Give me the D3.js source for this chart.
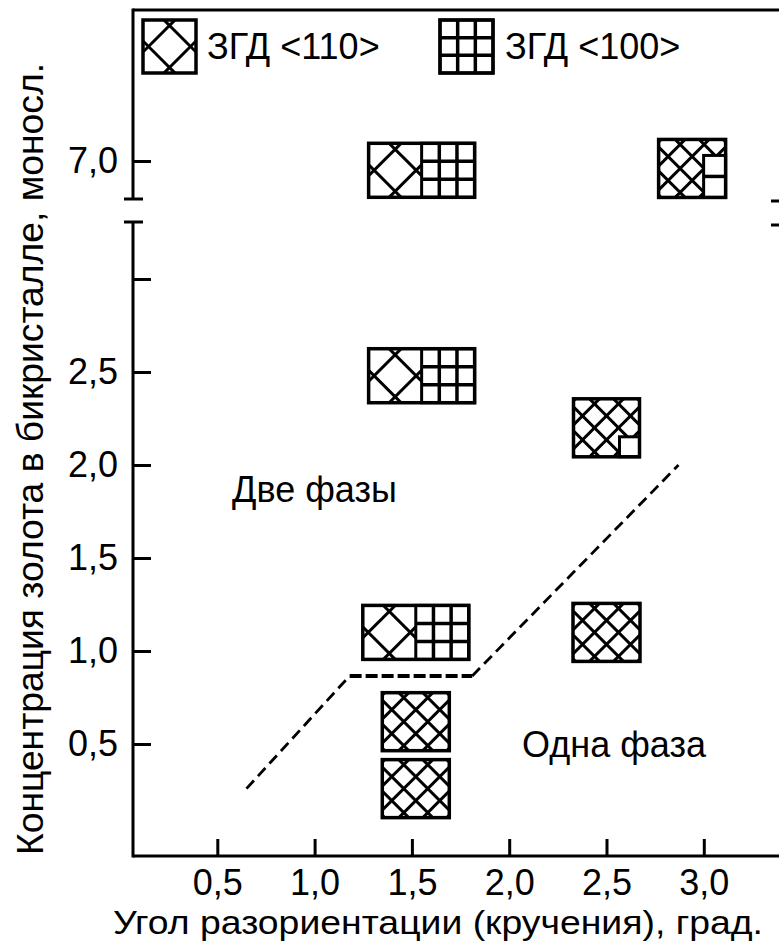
<!DOCTYPE html>
<html><head><meta charset="utf-8">
<script src="https://cdn.jsdelivr.net/npm/d3@7"></script>
<style>
body{margin:0;background:#fff}
text{font-family:"Liberation Sans",Arial,sans-serif;fill:#000}
</style>
</head><body>
<svg id="c" width="779" height="950"></svg>
<script>
// ---- data ----
const angles = [1.55, 2.94, 1.55, 2.50, 1.52, 2.50, 1.52, 1.52];
const concentrations = [6.95, 6.96, 2.48, 2.20, 1.10, 1.10, 0.62, 0.26];
const markerKinds = ["split", "diagCol", "split", "diagCorner", "split", "diag", "diag", "diag"];
const xTickValues = [0.5, 1.0, 1.5, 2.0, 2.5, 3.0];
const xTickLabels = ["0,5", "1,0", "1,5", "2,0", "2,5", "3,0"];
const yTickValuesLow = [0.5, 1.0, 1.5, 2.0, 2.5, 3.0];
const yTickLabelsLow = ["0,5", "1,0", "1,5", "2,0", "2,5", ""];
const yTickValuesHigh = [7.0];
const yTickLabelsHigh = ["7,0"];
const boundaryAngle = [0.65, 1.18, 1.81, 2.87];
const boundaryConc = [0.26, 0.866, 0.866, 2.0];
const legendLabels = ["ЗГД <110>", "ЗГД <100>"];
const regionLabels = ["Две фазы", "Одна фаза"];
const regionAngle = [0.576, 2.066];
const regionConc = [1.80, 0.43];
const xTitle = "Угол разориентации (кручения), град.";
const yTitle = "Концентрация золота в бикристалле, моносл.";

// ---- scales ----
const x = d3.scaleLinear().domain([0, 3.5]).range([120, 801.1]);
const yLow = d3.scaleLinear().domain([0, 3.0]).range([837, 279]);
const yHigh = d3.scaleLinear().domain([6.8, 7.0]).range([198.2, 161]);
const yOf = v => v > 5 ? yHigh(v) : yLow(v);

const svg = d3.select("#c");
const defs = svg.append("defs");
const FS = 36;
let uid = 0;

const axisX0 = 133, axisY0 = 856;

// frame / axes lines
const frame = svg.append("g").attr("stroke", "#000").attr("stroke-width", 3).attr("fill", "none");
frame.append("line").attr("x1", axisX0).attr("x2", 790).attr("y1", 10).attr("y2", 10);
frame.append("line").attr("x1", axisX0).attr("x2", axisX0).attr("y1", 8.5).attr("y2", 199);
frame.append("line").attr("x1", axisX0).attr("x2", axisX0).attr("y1", 222).attr("y2", axisY0 + 1.5);
frame.append("line").attr("x1", axisX0).attr("x2", 790).attr("y1", axisY0).attr("y2", axisY0);
// break caps
frame.append("line").attr("x1", 124).attr("x2", 143).attr("y1", 199).attr("y2", 199);
frame.append("line").attr("x1", 124).attr("x2", 143).attr("y1", 222).attr("y2", 222);
frame.append("line").attr("x1", 771).attr("x2", 795).attr("y1", 201).attr("y2", 201);
frame.append("line").attr("x1", 771).attr("x2", 795).attr("y1", 225).attr("y2", 225);

function styleAxis(g) {
  g.select(".domain").remove();
  g.selectAll(".tick line").attr("stroke", "#000").attr("stroke-width", 3);
  g.selectAll(".tick text").attr("font-size", FS).attr("font-family", '"Liberation Sans",Arial,sans-serif').attr("fill", "#000");
}

svg.append("g").attr("transform", `translate(${axisX0},0)`)
  .call(d3.axisLeft(yLow).tickValues(yTickValuesLow).tickFormat((d, i) => yTickLabelsLow[i]).tickSize(-18).tickPadding(15))
  .call(styleAxis);
svg.append("g").attr("transform", `translate(${axisX0},0)`)
  .call(d3.axisLeft(yHigh).tickValues(yTickValuesHigh).tickFormat((d, i) => yTickLabelsHigh[i]).tickSize(-18).tickPadding(15))
  .call(styleAxis);
svg.append("g").attr("transform", `translate(0,${axisY0})`)
  .call(d3.axisBottom(x).tickValues(xTickValues).tickFormat((d, i) => xTickLabels[i]).tickSize(-17).tickPadding(13))
  .call(styleAxis);

// titles
svg.append("text").attr("x", 113).attr("y", 934).attr("font-size", 33)
  .attr("textLength", 650).attr("lengthAdjust", "spacingAndGlyphs").text(xTitle);
svg.append("text").attr("transform", "translate(43,855) rotate(-90)").attr("font-size", FS)
  .attr("textLength", 792).attr("lengthAdjust", "spacingAndGlyphs").text(yTitle);

// ---- marker helpers ----
function hatch(g, x0, y0, w, h, q) {
  const id = "clip" + (uid++);
  defs.append("clipPath").attr("id", id).append("rect")
    .attr("x", x0).attr("y", y0).attr("width", w).attr("height", h);
  const gg = g.append("g").attr("clip-path", `url(#${id})`)
    .attr("stroke", "#000").attr("stroke-width", 3);
  const cx = x0 + w / 2, cy = y0 + h / 2, L = 200;
  for (let k = -6; k <= 5; k++) {
    const off = q / 2 + k * q;
    gg.append("line").attr("x1", cx + off + L).attr("y1", cy - L).attr("x2", cx + off - L).attr("y2", cy + L);
    gg.append("line").attr("x1", cx + off + L).attr("y1", cy + L).attr("x2", cx + off - L).attr("y2", cy - L);
  }
}
function grid(g, x0, y0, w, h, cols, rows) {
  g.append("rect").attr("x", x0).attr("y", y0).attr("width", w).attr("height", h)
    .attr("fill", "#fff").attr("stroke", "#000").attr("stroke-width", 3);
  for (let i = 1; i < cols; i++) {
    const xx = x0 + w * i / cols;
    g.append("line").attr("x1", xx).attr("x2", xx).attr("y1", y0).attr("y2", y0 + h).attr("stroke", "#000").attr("stroke-width", 3.5);
  }
  for (let j = 1; j < rows; j++) {
    const yy = y0 + h * j / rows;
    g.append("line").attr("x1", x0).attr("x2", x0 + w).attr("y1", yy).attr("y2", yy).attr("stroke", "#000").attr("stroke-width", 3.5);
  }
}
function border(g, x0, y0, w, h) {
  g.append("rect").attr("x", x0).attr("y", y0).attr("width", w).attr("height", h)
    .attr("fill", "none").attr("stroke", "#000").attr("stroke-width", 3.5);
}

const markerSize = {split: [106, 54], diagCol: [67, 58], diagCorner: [66, 58], diag: [67, 58]};
const mg = svg.append("g");
angles.forEach((a, i) => {
  const kind = markerKinds[i];
  const [w, h] = markerSize[kind];
  const cx = x(a), cy = yOf(concentrations[i]);
  const x0 = cx - w / 2, y0 = cy - h / 2;
  const g = mg.append("g");
  g.append("rect").attr("x", x0).attr("y", y0).attr("width", w).attr("height", h).attr("fill", "#fff");
  if (kind === "split") {
    const hw = w / 2;
    hatch(g, x0, y0, hw, h, 42);
    grid(g, x0 + hw, y0, hw, h, 3, 3);
  } else {
    hatch(g, x0, y0, w, h, 24);
    if (kind === "diagCol") grid(g, x0 + w - 22, y0 + 16, 22, h - 16, 1, 2);
    if (kind === "diagCorner") grid(g, x0 + w - 20, y0 + h - 20, 20, 20, 1, 1);
  }
  border(g, x0, y0, w, h);
});

// ---- phase boundary ----
const pts = boundaryAngle.map((a, i) => [x(a), yLow(boundaryConc[i])]);
const line = d3.line();
svg.append("path").attr("d", line([pts[0], pts[1]])).attr("fill", "none").attr("stroke", "#000")
  .attr("stroke-width", 2.8).attr("stroke-dasharray", "11,6");
svg.append("path").attr("d", line([pts[1], pts[2]])).attr("fill", "none").attr("stroke", "#000")
  .attr("stroke-width", 4).attr("stroke-dasharray", "12,4");
svg.append("path").attr("d", line([pts[2], pts[3]])).attr("fill", "none").attr("stroke", "#000")
  .attr("stroke-width", 2.8).attr("stroke-dasharray", "11,6");

// region labels
regionLabels.forEach((t, i) => {
  svg.append("text").attr("x", x(regionAngle[i])).attr("y", yLow(regionConc[i])).attr("font-size", FS).text(t);
});

// ---- legend ----
const lg = svg.append("g");
lg.append("rect").attr("x", 143).attr("y", 20).attr("width", 53).attr("height", 53).attr("fill", "#fff");
hatch(lg, 143, 20, 53, 53, 42);
border(lg, 143, 20, 53, 53);
lg.append("text").attr("x", 207).attr("y", 59).attr("font-size", FS).text(legendLabels[0]);
grid(lg, 440, 20, 53, 53, 3, 3);
border(lg, 440, 20, 53, 53);
lg.append("text").attr("x", 505).attr("y", 59).attr("font-size", FS).text(legendLabels[1]);
</script>
</body></html>
